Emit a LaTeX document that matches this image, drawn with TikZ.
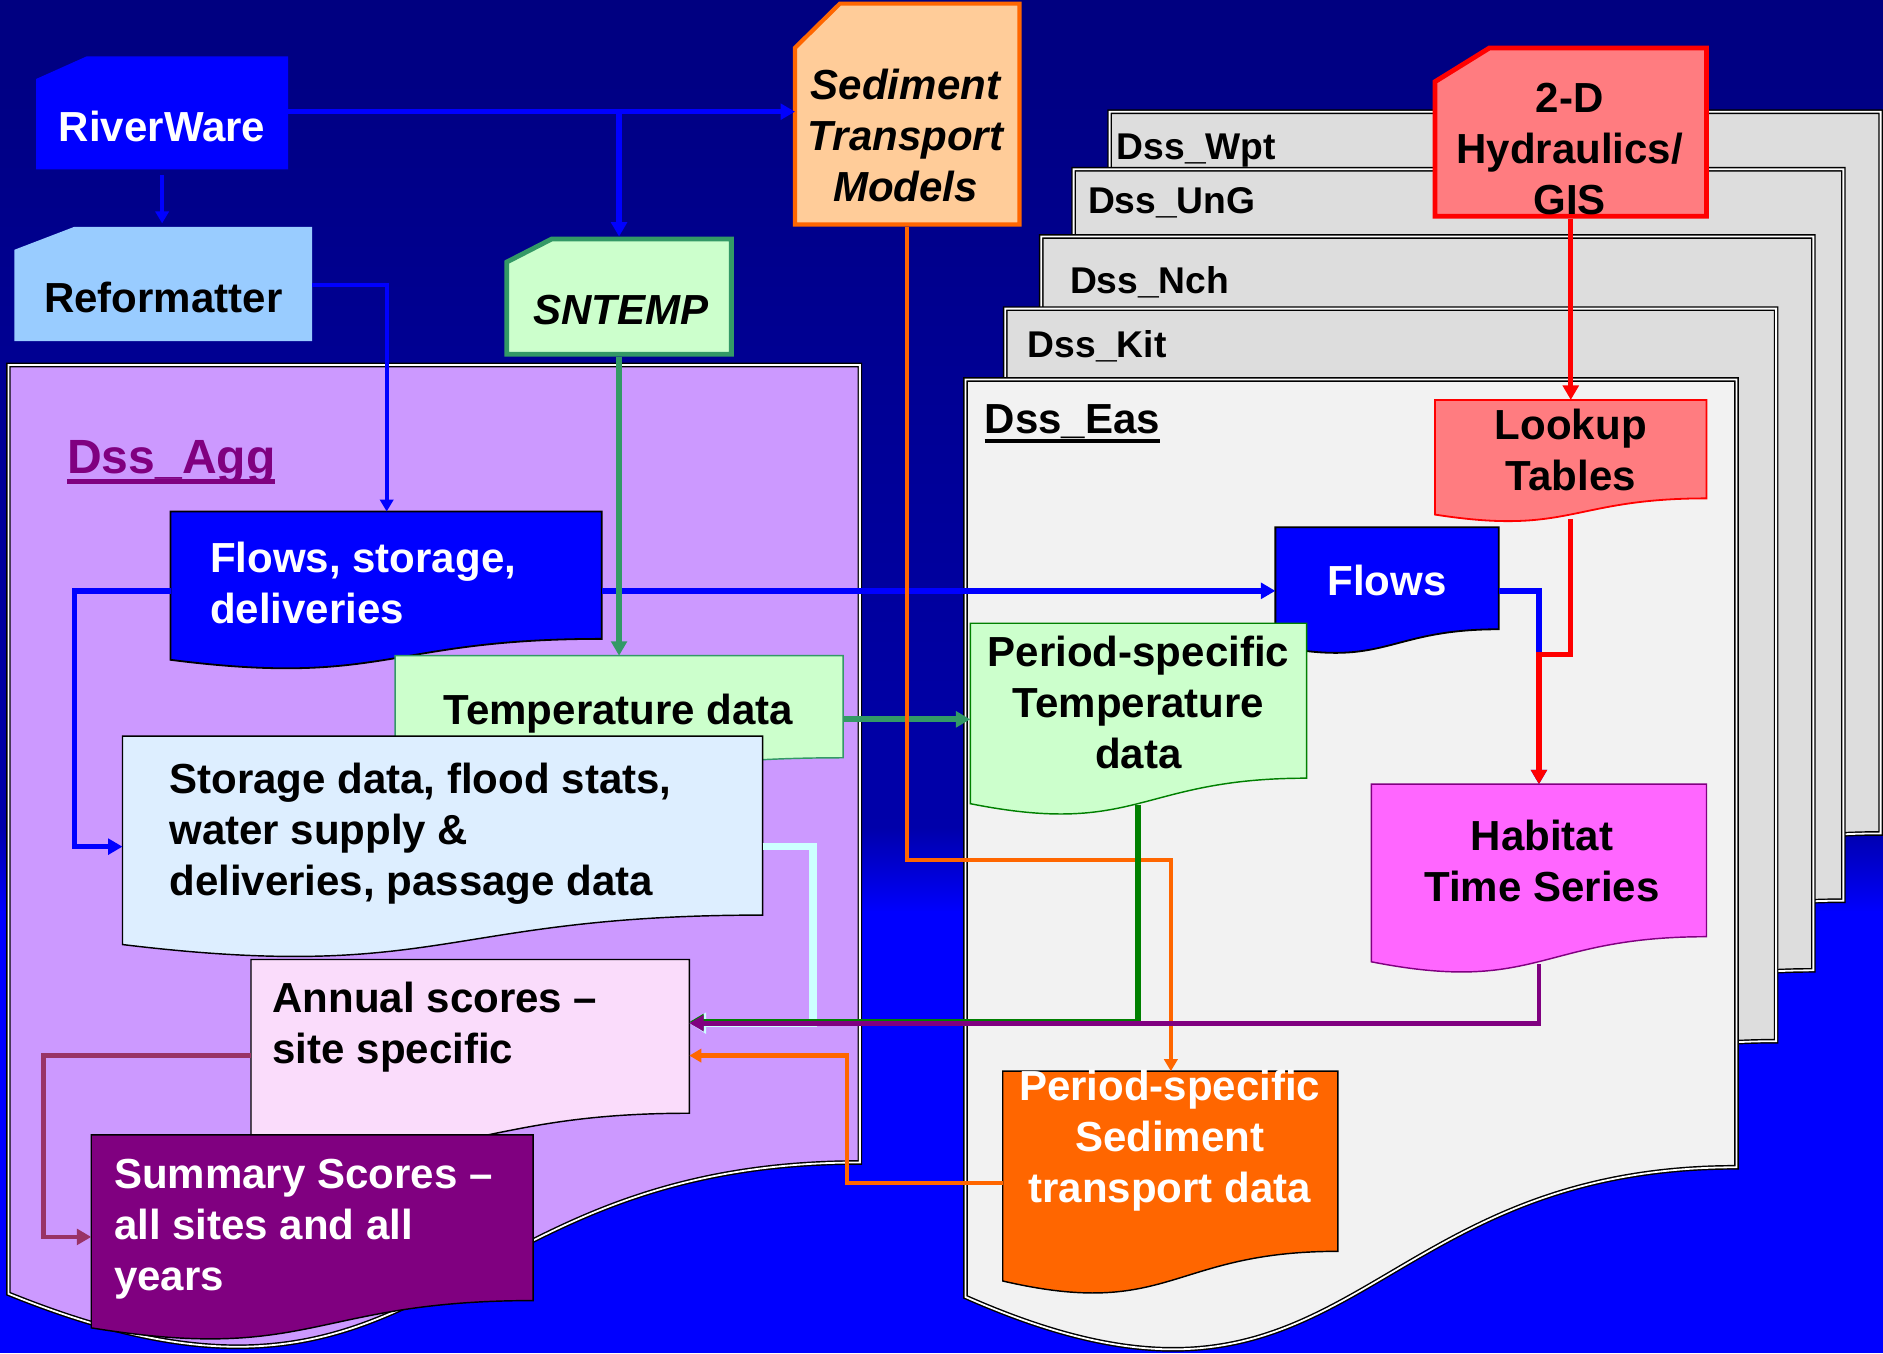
\documentclass[tikz,border=0pt]{standalone}
\usepackage{fontspec}
\setmainfont{Liberation Sans}
\usetikzlibrary{arrows.meta,calc}

\definecolor{navybg}{RGB}{0,0,128}
\definecolor{midbg}{RGB}{0,0,170}
\definecolor{cblue}{RGB}{0,0,255}
\definecolor{reform}{RGB}{153,204,255}
\definecolor{lgreen}{RGB}{204,255,204}
\definecolor{sgreen}{RGB}{51,153,102}
\definecolor{peach}{RGB}{255,204,153}
\definecolor{orng}{RGB}{255,102,0}
\definecolor{salmon}{RGB}{255,124,128}
\definecolor{lilac}{RGB}{204,153,255}
\definecolor{pgray}{RGB}{221,221,221}
\definecolor{pwhite}{RGB}{242,242,242}
\definecolor{storfill}{RGB}{221,238,255}
\definecolor{annfill}{RGB}{250,220,251}
\definecolor{purp}{RGB}{128,0,128}
\definecolor{dgreen}{RGB}{0,128,0}
\definecolor{pinkbox}{RGB}{255,102,255}
\definecolor{cyanl}{RGB}{204,255,255}
\definecolor{maroonl}{RGB}{153,51,102}

% document shape: name, x, y, width, right-side height, style
\newcommand\docbox[6]{%
  \path[#6] (#2,#3) -- ++(#4,0) -- ++(0,#5)
     .. controls +(-#4/2,0) and +(#4/2,0.2164*#5) .. (#2,#3+1.1646*#5) -- cycle;
  \node[inner sep=0pt,outer sep=0pt,minimum width=#4,minimum height=#5,anchor=north west] (#1) at (#2,#3) {};
}
% punched-card shape: name, x, y, width, height, style
\newcommand\cardbox[6]{%
  \path[#6] (#2+0.2*#4,#3) -- (#2+#4,#3) -- (#2+#4,#3+#5) -- (#2,#3+#5) -- (#2,#3+0.2*#5) -- cycle;
  \node[inner sep=0pt,outer sep=0pt,minimum width=#4,minimum height=#5,anchor=north west] (#1) at (#2,#3) {};
}
\newcommand\mlines[2]{\begin{tabular}[t]{@{}#1@{}}#2\end{tabular}}
\newcommand\myul[4]{\setbox0\hbox{#4}\rlap{\color{#1}\rule[-#2]{\wd0}{#3}}\box0}

\tikzset{
  txt/.style={inner sep=0pt, outer sep=0pt, font=\fontsize{35}{42.5}\selectfont\bfseries},
  tablbl/.style={inner sep=0pt, outer sep=0pt, anchor=base west, font=\fontsize{31}{36}\selectfont\bfseries},
  pageb/.style={draw=black, line width=1.2pt, double=white, double distance=1.5pt},
  conn/.style={-{Triangle[length=12pt,width=13pt]}, line join=miter},
  connsm/.style={-{Triangle[length=10pt,width=11pt]}, line join=miter},
  connbig/.style={-{Triangle[length=14pt,width=17pt]}, line join=miter},
}

\begin{document}
\begin{tikzpicture}[x=1pt,y=-1pt]
\useasboundingbox (0,0) rectangle (1568,1127);

% background
\shade[top color=navybg, bottom color=midbg] (0,0) rectangle (1568,690);
\shade[top color=midbg, bottom color=cblue] (0,689) rectangle (1568,760);
\fill[cblue] (0,759) rectangle (1568,1127);

% stacked pages
\docbox{pWpt}{924}{93}{642}{601}{pageb, fill=pgray}
\docbox{pUnG}{894}{141}{641}{609}{pageb, fill=pgray}
\docbox{pNch}{867}{197}{643}{611}{pageb, fill=pgray}
\docbox{pKit}{837}{257}{642}{610}{pageb, fill=pgray}
\docbox{pEas}{804}{316}{642}{656}{pageb, fill=pwhite}
\docbox{pAgg}{7}{304}{709}{664}{pageb, fill=lilac}

\node[tablbl] (lWpt) at (930,133) {Dss\_Wpt};
\node[tablbl] (lUnG) at (906,178) {Dss\_UnG};
\node[tablbl] (lNch) at (891,244) {Dss\_Nch};
\node[tablbl] (lKit) at (856,298) {Dss\_Kit};
\node[txt, anchor=base west] (lEas) at (820,361) {\myul{black}{8pt}{3.5pt}{Dss\_Eas}};
\node[inner sep=0pt, outer sep=0pt, anchor=base west, text=purp, font=\fontsize{40}{46}\selectfont\bfseries] (lAgg) at (56,394) {\myul{purp}{9pt}{4.5pt}{Dss\_Agg}};

% top-level model cards
\cardbox{riverware}{30}{47}{210}{94}{fill=cblue}
\cardbox{reformatter}{12}{189}{248}{95}{fill=reform}
\cardbox{sntemp}{422}{199}{187}{96}{fill=lgreen, draw=sgreen, line width=4}
\cardbox{sediment}{662}{3}{187}{184}{fill=peach, draw=orng, line width=3.5}
\cardbox{hydro}{1195}{40}{226}{140}{fill=salmon, draw=red, line width=4}

\node[txt, text=white, anchor=base] (tRiver) at (135,117.5) {RiverWare};
\node[txt, anchor=base] (tReform) at (136,260) {Reformatter};
\node[txt, anchor=base] (tSntemp) at (517,270) {\itshape SNTEMP};
\node[txt, anchor=base] (tSed) at (754,83) {\itshape\mlines{c}{Sediment\\Transport\\Models}};
\node[txt, anchor=base] (tHyd) at (1307,94) {\mlines{c}{2-D\\Hydraulics/\\GIS}};

% Dss_Agg contents
\docbox{flowsA}{142}{426}{359}{106}{fill=cblue, draw=black, line width=1.5}
\docbox{temp}{329}{546}{373}{85}{fill=lgreen, draw=sgreen, line width=1.2}
\docbox{storage}{102}{613}{533}{149}{fill=storfill, draw=black, line width=1.2}
\docbox{annual}{209}{799}{365}{128}{fill=annfill, draw=black, line width=1.2}
\docbox{summary}{76}{945}{368}{138}{fill=purp, draw=black, line width=1.2}

\node[txt, text=white, anchor=base west] (tFlowsA) at (175,477) {\mlines{l}{Flows, storage,\\deliveries}};
\node[txt, anchor=base] (tTemp) at (515,603) {Temperature data};
\node[txt, anchor=base west] (tStor) at (141,661) {\mlines{l}{Storage data, flood stats,\\water supply \&\\deliveries, passage data}};
\node[txt, anchor=base west] (tAnn) at (227,843) {\mlines{l}{Annual scores --\\site specific}};
\node[txt, text=white, anchor=base west] (tSum) at (95,990) {\mlines{l}{Summary Scores --\\all sites and all\\years}};

% Dss_Eas contents
\docbox{lookup}{1195}{333}{226}{82}{fill=salmon, draw=red, line width=1.5}
\docbox{flowsB}{1062}{439}{186}{85}{fill=cblue, draw=black, line width=1.5}
\docbox{ptemp}{808}{519}{280}{129}{fill=lgreen, draw=dgreen, line width=1.2}
\docbox{habitat}{1142}{653}{279}{127}{fill=pinkbox, draw=purp, line width=1.2}
\docbox{psed}{835}{892}{279}{150}{fill=orng, draw=black, line width=1.2}

\node[txt, anchor=base] (tLook) at (1308,366) {\mlines{c}{Lookup\\Tables}};
\node[txt, text=white, anchor=base] (tFlowsB) at (1155,496) {Flows};
\node[txt, anchor=base] (tPtemp) at (948,555) {\mlines{c}{Period-specific\\Temperature\\data}};
\node[txt, anchor=base] (tHab) at (1284,708) {\mlines{c}{Habitat\\Time Series}};
\node[txt, text=white, anchor=base] (tPsed) at (974,916) {\mlines{c}{Period-specific\\Sediment\\transport data}};

% connectors
\coordinate (split) at (515.5,93);
\draw[conn, cblue, line width=4.5] (riverware.east |- split) -- (sediment.west |- split);
\draw[conn, cblue, line width=4.5] (split) -- ([yshift=2pt]sntemp.north -| split);
\draw[connsm, cblue, line width=3.5, shorten <=5pt, shorten >=3pt] (riverware.south) -- (reformatter.north -| riverware.south);
\draw[connsm, cblue, line width=3.5] (reformatter.east |- 0,237) -| (flowsA.north -| 322,0);
\draw[conn, cblue, line width=4.5] (flowsA.east |- 0,492) -- (flowsB.west |- 0,492);
\draw[conn, cblue, line width=4.5] (flowsA.west |- 0,492) -- (62,492) -- (62,705) -- (storage.west |- 0,705);
\draw[conn, cblue, line width=4.5] (flowsB.east |- 0,492) -- (1281.5,492) -- (habitat.north);

\draw[conn, sgreen, line width=4.5] ([yshift=-2pt]sntemp.south) -- (temp.north -| sntemp.south);
\draw[conn, sgreen, line width=5] (temp.east |- 0,599) -- (ptemp.west |- 0,599);

\draw[connsm, orng, line width=3] ([yshift=-2pt]sediment.south) -- (755.5,716) -- (975,716) -- (psed.north -| 975,0);

\draw[connbig, cyanl, line width=6] (storage.east |- 0,705) -- (677,705) -- (677,852) -- (annual.east |- 0,852);
\draw[conn, dgreen, line width=5] (ptemp.south |- 0,670) -- (948,851) -- (annual.east |- 0,851);
\draw[conn, purp, line width=4] (habitat.south |- 0,803) -- (1281.5,852) -- (annual.east |- 0,852);
\draw[connsm, orng, line width=3.5] (psed.west |- 0,985) -- (705,985) -- (705,879) -- (annual.east |- 0,879);

\draw[conn, red, line width=4.5] ([yshift=-2pt]hydro.south) -- (lookup.north);
\draw[conn, red, line width=4.5] (lookup.south |- 0,432) -- (1308,545) -- (1281.5,545) -- (habitat.north);

\draw[conn, maroonl, line width=4] (annual.west |- 0,879) -- (36,879) -- (36,1030) -- (summary.west |- 0,1030);
\end{tikzpicture}
\end{document}
